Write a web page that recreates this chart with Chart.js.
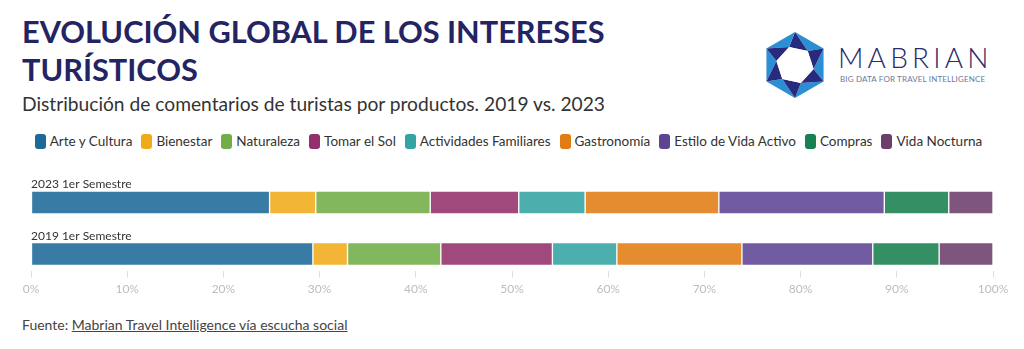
<!DOCTYPE html>
<html lang="es">
<head>
<meta charset="utf-8">
<title>Evolución global de los intereses turísticos</title>
<script src="https://cdn.jsdelivr.net/npm/chart.js@4.4.1/dist/chart.umd.min.js"></script>
<style>
  html, body { margin: 0; padding: 0; background: #fff; }
  body { width: 1024px; height: 349px; position: relative; overflow: hidden; font-family: Lato, "Noto Sans", sans-serif; color: #333; }
  h1 { position: absolute; left: 22px; top: 13px; margin: 0; font-size: 30.7px; line-height: 38px; font-weight: 700; color: #242463; }
  .sub { position: absolute; left: 22px; top: 92px; margin: 0; font-size: 19.2px; color: #333; }
  #legend { position: absolute; left: 0; width: 1017px; top: 133px; display: flex; justify-content: center; gap: 9px; font-size: 13.5px; }
  #legend span { display: inline-flex; align-items: center; }
  #legend i { display: inline-block; width: 11px; height: 15px; border-radius: 3px; margin-right: 4px; }
  #wrap { position: absolute; left: 0; top: 168px; width: 1024px; height: 132px; }
  .src { position: absolute; left: 22px; top: 316px; font-size: 14px; color: #444; }
  .src a { color: #444; }
  .logo { position: absolute; left: 760px; top: 30px; }
  .brand { position: absolute; left: 838px; top: 40px; font-size: 28px; font-weight: 300; letter-spacing: 4.2px; color: #2b2b6b; }
  .tag { position: absolute; left: 840px; top: 74px; font-size: 8px; letter-spacing: 0.15px; color: #6b7a9c; }
</style>
</head>
<body>
<h1>EVOLUCIÓN GLOBAL DE LOS INTERESES<br>TURÍSTICOS</h1>
<p class="sub">Distribución de comentarios de turistas por productos. 2019 vs. 2023</p>

<svg class="logo" width="70" height="72" viewBox="0 0 70 72">
  <g id="hex"></g>
</svg>
<div class="brand">MABRIAN</div>
<div class="tag">BIG DATA FOR TRAVEL INTELLIGENCE</div>

<div id="legend"></div>
<div id="wrap"><canvas id="chart"></canvas></div>
<div class="src">Fuente: <a href="#">Mabrian Travel Intelligence vía escucha social</a></div>

<script>
// categorías y filas
const categorias = ['Arte y Cultura', 'Bienestar', 'Naturaleza', 'Tomar el Sol', 'Actividades Familiares',
  'Gastronomía', 'Estilo de Vida Activo', 'Compras', 'Vida Nocturna'];
const filas = ['2023 1er Semestre', '2019 1er Semestre'];

// porcentaje de comentarios por producto
const valores2023 = [24.8, 4.8, 11.9, 9.2, 6.9, 13.9, 17.2, 6.7, 4.6];
const valores2019 = [29.3, 3.6, 9.7, 11.6, 6.7, 13.0, 13.6, 6.9, 5.6];

const ticksX = [0, 10, 20, 30, 40, 50, 60, 70, 80, 90, 100];

const colores = ['#1d6a9a', '#f0ab1a', '#72ad47', '#93306b', '#34a4a2', '#e07c12', '#5c4493', '#19804f', '#6c3f6b'];

function alpha(hex, a) {
  const n = parseInt(hex.slice(1), 16);
  return `rgba(${n >> 16}, ${(n >> 8) & 255}, ${n & 255}, ${a})`;
}

// leyenda
document.getElementById('legend').innerHTML = categorias
  .map((c, i) => `<span><i style="background:${colores[i]}"></i>${c}</span>`).join('');

// logo: hexágono en molinillo
(function drawLogo() {
  const cx = 35, cy = 35, R = 33, r = 19;
  const pt = (rad, deg) => [cx + rad * Math.cos(deg * Math.PI / 180), cy + rad * Math.sin(deg * Math.PI / 180)];
  const outer = [-90, -30, 30, 90, 150, 210].map(a => pt(R, a));
  const inner = [-48, 12, 72, 132, 192, 252].map(a => pt(r, a));
  const dark = '#272a7d', light = '#2b8fd3';
  let html = '';
  const poly = (pts, fill) => { html += `<polygon points="${pts.map(p => p.join(',')).join(' ')}" fill="${fill}"/>`; };
  for (let k = 0; k < 6; k++) {
    const o = outer[k], o2 = outer[(k + 1) % 6];
    poly([o, o2, inner[k]], light);
    poly([o, inner[(k + 5) % 6], inner[k]], dark);
  }
  poly(inner, '#fff');
  document.getElementById('hex').innerHTML = html;
})();

const datasets = categorias.map((c, i) => ({
  label: c,
  data: filas.map((f, j) => ({ x: [valores2023, valores2019][j][i], y: j })),
  backgroundColor: alpha(colores[i], 0.88),
  borderColor: 'rgba(255,255,255,0.7)',
  borderWidth: 1,
  borderSkipped: false,
  barThickness: 23
}));

// nombres de fila encima de cada barra
const rowLabels = {
  id: 'rowLabels',
  afterDatasetsDraw(chart) {
    const { ctx, chartArea, scales } = chart;
    ctx.save();
    ctx.font = '12px Lato, "Noto Sans", sans-serif';
    ctx.fillStyle = '#333';
    ctx.textBaseline = 'alphabetic';
    filas.forEach((f, j) => {
      ctx.fillText(f, chartArea.left, scales.y.getPixelForValue(j) - 11.5 - 3);
    });
    ctx.restore();
  }
};

const chart = new Chart(document.getElementById('chart'), {
  type: 'bar',
  data: { datasets },
  plugins: [rowLabels],
  options: {
    indexAxis: 'y',
    responsive: true,
    maintainAspectRatio: false,
    animation: false,
    layout: { padding: { left: 31, right: 31, top: 8, bottom: 0 } },
    plugins: { legend: { display: false }, tooltip: { enabled: false } },
    scales: {
      x: {
        type: 'linear',
        stacked: true,
        min: 0,
        max: 100,
        afterBuildTicks: s => { s.ticks = ticksX.map(v => ({ value: v })); },
        ticks: { callback: v => v + '%', color: '#bdbdbd', font: { family: 'Lato', size: 12 }, padding: 4 },
        grid: { drawOnChartArea: false, drawTicks: true, tickLength: 7, color: '#dedede' },
        border: { display: false }
      },
      y: {
        type: 'linear',
        stacked: true,
        reverse: true,
        offset: false,
        min: -0.5,
        max: 1.5,
        display: false
      }
    }
  }
});

// centros de las filas dentro del lienzo (px)
const centro0 = 34.5, centro1 = 86;
const area = chart.chartArea;
const paso = centro1 - centro0;
chart.options.scales.y.min = -(centro0 - area.top) / paso;
chart.options.scales.y.max = 1 + (area.bottom - centro1) / paso;
chart.update();
</script>
</body>
</html>
